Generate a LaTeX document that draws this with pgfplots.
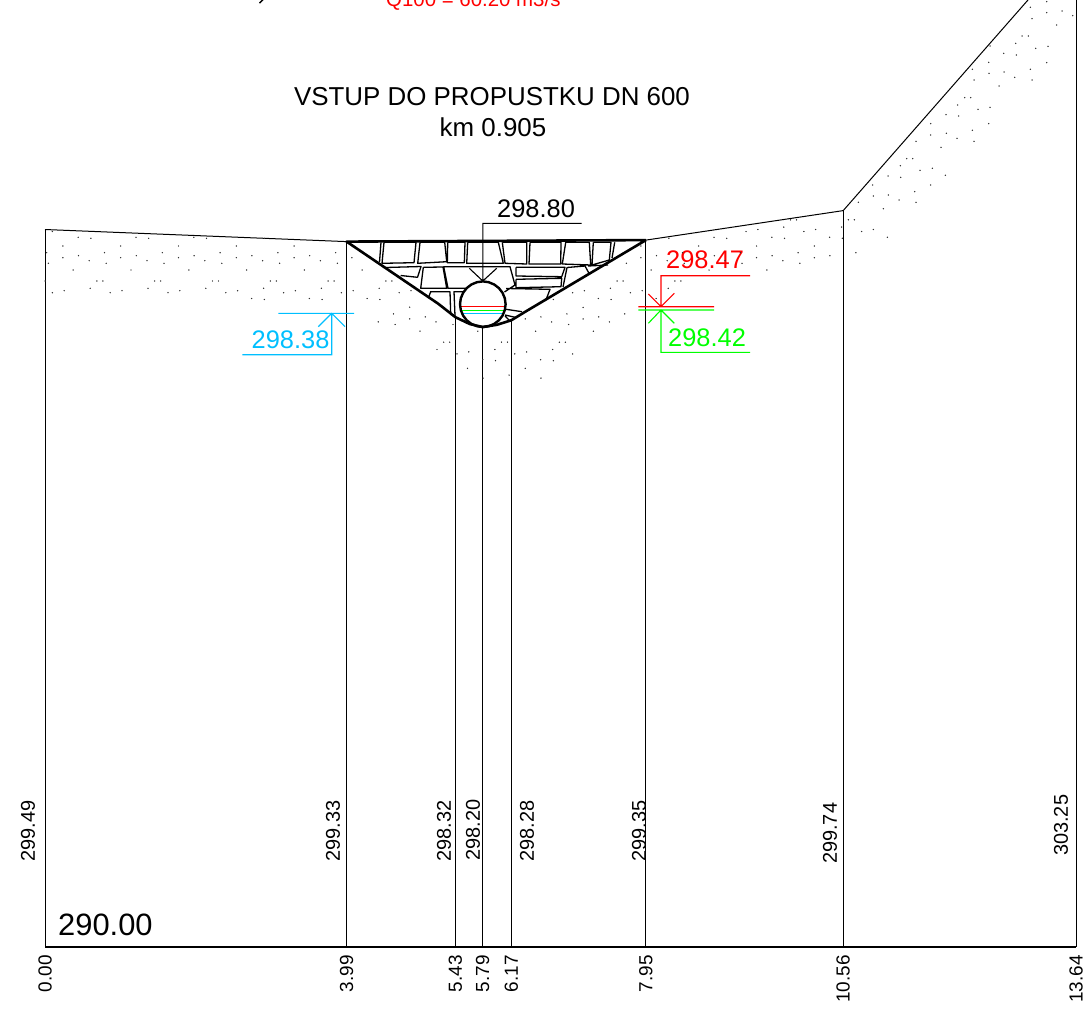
\documentclass[border=0pt]{standalone}
\usepackage{fontspec}
\setmainfont{Liberation Sans}
\usepackage{pgfplots}
\pgfplotsset{compat=1.18}
\definecolor{wlred}{RGB}{255,0,0}
\definecolor{wlgreen}{RGB}{0,255,0}
\definecolor{wlblue}{RGB}{0,191,255}
\newcommand{\fs}[1]{\fontsize{#1}{#1}\selectfont}
\begin{document}
\begin{tikzpicture}[x=1bp,y=1bp]
\useasboundingbox (0,0) rectangle (1085,1016);
% cross section: station [m] against elevation [m]
\begin{axis}[
  at={(45bp,69bp)},anchor=south west,
  scale only axis,width=1031bp,height=947bp,
  xmin=0,xmax=13.64,ymin=290,ymax=302.526,
  clip=false,
  axis x line=bottom,hide y axis,
  axis line style={-,line width=2.4bp},
  xtick={0,3.99,5.43,5.79,6.17,7.95,10.56,13.64},
  xticklabels={0.00,3.99,5.43,5.79,6.17,7.95,10.56,13.64},
  major tick length=0pt,
  xticklabel style={rotate=90,anchor=east,inner sep=0pt,font=\fs{19},xshift=-8bp},
  unbounded coords=jump,
]
% station verticals
\addplot[black,line width=0.9bp] coordinates {
  (0,290) (0,299.49) (nan,nan)
  (3.99,290) (3.99,299.33) (nan,nan)
  (5.43,290) (5.43,298.32) (nan,nan)
  (5.79,290) (5.79,298.20) (nan,nan)
  (6.17,290) (6.17,298.28) (nan,nan)
  (7.95,290) (7.95,299.35) (nan,nan)
  (10.56,290) (10.56,299.74) (nan,nan)
  (13.64,290) (13.64,303.25)
};
% terrain
\addplot[black,line width=1bp] coordinates {(0,299.49) (3.99,299.33) (nan,nan) (7.95,299.35) (10.56,299.74) (13.64,303.25)};
% stone lining
\addplot[black,line width=2.6bp,line join=round] coordinates {
  (7.95,299.35) (3.99,299.33) (5.20,298.51) (5.43,298.33) (5.62,298.24) (5.79,298.20)
  (5.98,298.23) (6.17,298.29) (6.35,298.40) (7.95,299.35)};
\end{axis}
% details read in picture pixels
\begin{axis}[
  at={(0bp,0bp)},anchor=south west,
  scale only axis,width=1085bp,height=1016bp,
  xmin=0,xmax=1085,ymin=0,ymax=1016,y dir=reverse,
  hide axis,clip=false,unbounded coords=jump,
]
% sand hatch
\addplot[only marks,mark=*,mark size=0.45bp,black!80,mark options={draw=none}] coordinates {
 (45.1,281)(46.7,252.7)(48.4,263.3)(52.4,292.7)(52.4,231.5)
 (62.9,246)(62.9,257.7)(64.2,290.7)(73.2,270)(78.2,237.3)(78.5,255.7)(89.2,260.7)(90.2,288.3)(90.9,238.3)(96.9,281)(102.9,281)(104.5,252.7)(106.2,263.3)(110.2,292.7)
 (120.7,246)(120.7,257.7)(122,290.7)(131,270)(136,237.3)(136.3,255.7)(147,260.7)(148,288.3)(148.7,238.3)(154.7,281)(160.7,281)(162.3,252.7)(164,263.3)(168,292.7)
 (178.5,246)(178.5,257.7)(179.8,290.7)(188.8,270)(193.8,237.3)(194.1,255.7)(204.8,260.7)(205.8,288.3)(206.5,238.3)(212.5,281)(218.5,281)(220.1,252.7)(221.8,263.3)(225.8,292.7)
 (236.3,246)(236.3,257.7)(237.6,290.7)(246.6,270)(251.9,255.7)(262.6,260.7)(263.6,288.3)(264.3,238.3)(270.3,281)(276.3,281)(277.9,252.7)(279.6,263.3)(283.6,292.7)(251.6,298.5)(264.3,299.5)
 (294.1,246)(294.1,257.7)(295.4,290.7)(304.4,270)(309.7,255.7)(320.4,260.7)(321.4,288.3)(328.1,281)(334.1,281)(335.7,252.7)(337.4,263.3)(341.4,292.7)(309.4,298.5)(322.1,299.5)
 (351.9,257.7)(353.2,290.7)(362.2,270)(379.2,288.3)(385.9,281)(391.9,281)(399.2,292.7)
 (367.2,298.5)(379.9,299.5)(378.2,321.9)(395.2,324.5)(393.5,313.9)
 (411,290.7)(409.7,307.2)(409.7,318.9)(425.3,316.9)(436,321.9)(420,331.2)(453,324.5)(443.7,342.2)(449.7,342.2)(437,349.5)(457,353.9)
 (468.8,351.9)(501.5,342.2)(507.5,342.2)(494.8,349.5)(514.8,353.9)(477.8,331.2)
 (482.8,359.7)(495.5,360.7)(467.5,368.4)(509.1,375.1)(483.1,378.1)
 (526.6,351.9)(535.6,331.2)(525.3,318.9)(540.9,316.9)(551.6,321.9)(568.6,324.5)(566.9,313.9)(559.3,342.2)(565.3,342.2)(552.6,349.5)(572.6,353.9)(553.3,299.5)
 (540.6,359.7)(553.3,360.7)(525.3,368.4)(540.9,378.1)(572.6,292.7)
 (584.4,290.7)(630.4,292.7)(617.1,281)(623.1,281)(610.4,288.3)(626.4,263.3)
 (598.4,298.5)(611.1,299.5)(583.1,307.4)(583.1,318.9)(598.7,316.9)(609.4,321.9)(593.4,331.2)(624.7,313.9)
 (640.9,246)(640.9,257.7)(651.2,270)(642.2,290.7)(656.5,255.7)(667.2,260.7)(684.2,263.3)(682.5,252.7)(674.9,281)(680.9,281)(668.2,288.3)(656.2,298.5)(668.9,238.3)
 (698.7,246)(698.7,257.7)(714.3,255.7)(709,270)(725,260.7)(742,263.3)(740.3,252.7)(714,237.3)(726.7,238.3)(746,231.5)
 (756.5,246)(756.5,257.7)(772.1,255.7)(782.8,260.7)(799.8,263.3)(766.8,270)(798.1,252.7)(771.8,237.3)(784.5,238.3)(757.8,229.5)(783.8,227.1)(790.5,219.8)(796.5,219.8)(803.8,231.5)
 (814.3,246)(814.3,257.7)(829.9,255.7)(855.9,252.7)(829.6,237.3)(842.3,238.3)(815.6,229.5)(841.6,227.1)(848.3,219.8)(854.3,219.8)(861.6,231.5)
 (873.4,229.5)(887.4,237.3)
 (1030.3,7.3)(1046.7,1.7)(1032,18.7)(1046.7,12.7)(1062,11)(1072.7,15.7)(1056.7,25)(1022,36)(1028.3,36)(1015.7,43.3)(990,46)(1035.7,48.3)(1048,46.3)(1003.7,53.3)(1016.3,55)(988.7,62.3)(1046.7,62.7)(972.3,69.3)(1030.3,69.3)(989,73.3)(1004,72)(1014.7,77.3)(1032,80)(974,80)(999,86)
 (964.7,97.7)(970.7,97.7)(957.7,105)(990,107.3)(978,109.3)(946,114.7)(958.7,116)(930.7,123.7)(988.7,123.7)(972.3,130.3)(930.7,135)(946.3,133.3)(957,138.3)(916,141.3)(974,141.3)(941,147.3)
 (906.7,158.7)(912.7,158.7)(900.3,165.7)(920,170.3)(932.3,168.3)(888,176)(900.7,177.3)(945.3,175.3)(872.7,185)(930.7,185)(914.7,191.7)(888.3,195)(873.3,196)(899,200)(858.3,202.3)(916,202.3)(883.3,208.7)
};
% joints between the stones
\addplot[black,line width=1.3bp,line join=round] coordinates {
 (384,242.3)(416,242.3)(414,262.7)(382,263.3)(384,242.3)(nan,nan)
 (420,242.3)(444.7,242.3)(446.7,261.7)(417.7,263.3)(420,242.3)(nan,nan)
 (447.7,242.3)(465,242.3)(464.3,262.7)(447.3,262.7)(447.7,242.3)(nan,nan)
 (467.7,242.3)(498.3,242.3)(503.3,263.3)(466.7,263.3)(467.7,242.3)(nan,nan)
 (502.3,242.3)(526.7,242.3)(526.7,264)(505,263.3)(502.3,242.3)(nan,nan)
 (530,242.3)(561,242.3)(560.7,264)(529,264)(530,242.3)(nan,nan)
 (565.7,242.3)(589.3,242.3)(590.7,265)(562.3,264)(565.7,242.3)(nan,nan)
 (593.3,242.3)(611,242.3)(609.3,260)(592,265)(593.3,242.3)(nan,nan)
 (381,242.3)(379.5,262)(nan,nan)
 (614.7,242.3)(612,258)(nan,nan)
 (386,267.5)(421,266.5)(417.5,277.3)(400.7,275.5)(nan,nan)
 (423.3,267.3)(443,267)(446.7,288.3)(420.7,288.3)(423.3,267.3)(nan,nan)
 (465.5,288.3)(448,288.3)(443.7,266.7)(510,266.7)(515,285)(504.5,292)(nan,nan)
 (516,267.3)(565,267.3)(561.7,276.7)(516,276)(516,267.3)(nan,nan)
 (516,279.3)(561.7,278.3)(561,286.7)(516,287.7)(516,279.3)(nan,nan)
 (563,287)(567,267.5)(585,266)(589,273.3)(nan,nan)
 (588,266)(608,265)(nan,nan)
 (506,288.5)(550,289.3)(546.7,298)(nan,nan)
 (430.7,291.7)(428.3,298)(nan,nan)
 (430,291.7)(450,291.7)(450.7,315)(nan,nan)
 (463,291.7)(454,291.7)(455,316)(nan,nan)
 (506,309.3)(522,311.7)(nan,nan)
 (505,315)(516,317.5)(nan,nan)
 (505,316)(510,321)
};
% water levels in the pipe
\addplot[wlred,line width=1bp] coordinates {(460.7,306.7)(505.3,306.7)};
\addplot[wlgreen,line width=1bp] coordinates {(461.5,310)(505,310)};
\addplot[wlblue,line width=1bp] coordinates {(463,313)(503,313)};
% pipe DN 600
\addplot[black,line width=2.4bp] coordinates {
 (505.6,304.2)(504.8,310.1)(502.5,315.6)(498.9,320.3)(494.2,323.9)(488.7,326.2)(482.8,327)(476.9,326.2)(471.4,323.9)(466.7,320.3)(463.1,315.6)(460.8,310.1)(460,304.2)(460.8,298.3)(463.1,292.8)(466.7,288.1)(471.4,284.5)(476.9,282.2)(482.8,281.4)(488.7,282.2)(494.2,284.5)(498.9,288.1)(502.5,292.8)(504.8,298.3)(505.6,304.2)};
% level marks
\addplot[black,line width=1.1bp] coordinates {(581.7,223.3)(482.8,223.3)(482.8,281)(nan,nan)(469.3,268.3)(482.8,281)(496.7,268.3)};
\addplot[wlred,line width=1.1bp] coordinates {(638.3,306.7)(714,306.7)(nan,nan)(750,275.7)(661,275.7)(661,306.7)(nan,nan)(648.3,294)(661,306.7)(674.3,293.3)};
\addplot[wlgreen,line width=1.1bp] coordinates {(638.3,310)(714,310)(nan,nan)(750,352.3)(661,352.3)(661,310)(nan,nan)(648.3,323.3)(661,310)(674.3,323.3)};
\addplot[wlblue,line width=1.1bp] coordinates {(278.3,313.3)(354,313.3)(nan,nan)(242.3,354.7)(331.7,354.7)(331.7,313.3)(nan,nan)(318.3,326.7)(331.7,313.3)(345,326.7)};
% end of a cut-off line of text
\addplot[black,line width=1.4bp] coordinates {(263.5,-1)(259.5,3.2)};
% texts
\node[anchor=base west,inner sep=0pt,text=wlred,font=\fs{20.5}] at (axis cs:386,6) {Q100 = 60.20 m3/s};
\node[anchor=base,inner sep=0pt,font=\fs{26}] at (axis cs:492,105) {VSTUP DO PROPUSTKU DN 600};
\node[anchor=base,inner sep=0pt,font=\fs{26}] at (axis cs:493,136) {km 0.905};
\node[anchor=base west,inner sep=0pt,font=\fs{25.5}] at (axis cs:497,217) {298.80};
\node[anchor=base west,inner sep=0pt,text=wlred,font=\fs{25.5}] at (axis cs:666,268) {298.47};
\node[anchor=base west,inner sep=0pt,text=wlgreen,font=\fs{25.5}] at (axis cs:668,346.7) {298.42};
\node[anchor=base west,inner sep=0pt,text=wlblue,font=\fs{25.5}] at (axis cs:251.5,348.3) {298.38};
\node[anchor=base west,inner sep=0pt,font=\fs{31}] at (axis cs:58,935) {290.00};
\foreach \xx/\yy/\tt in {28/861.5/299.49,333/861.5/299.33,444/861.5/298.32,473/860.5/298.20,527/861.5/298.28,639/861.5/299.35,830/864/299.74,1061/856/303.25}{
  \edef\tmp{\noexpand\node[rotate=90,anchor=west,inner sep=0pt,font=\noexpand\fs{20}] at (axis cs:\xx,\yy) {\tt};}\tmp
}
\end{axis}
\end{tikzpicture}
\end{document}
